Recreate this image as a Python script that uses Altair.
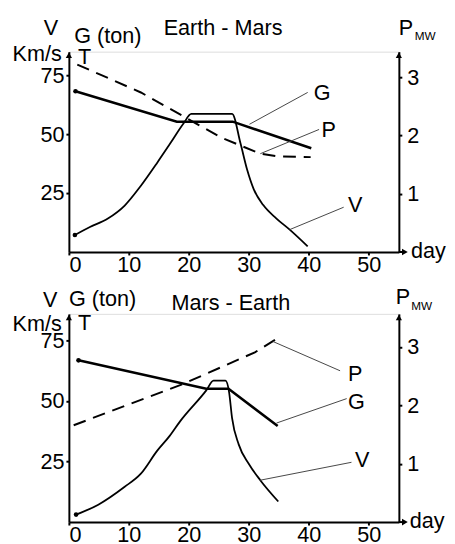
import altair as alt
import pandas as pd

FONT = "Liberation Sans"

# ---------------- Earth - Mars (top panel) ----------------
em_g_day = [1.1, 18.0, 27.3, 40.4]
em_g_val = [68.2, 55.3, 55.3, 44.0]
em_v_day = [1.0, 3.5, 6.5, 9.3, 12.0, 14.7, 16.9, 19.1, 20.4, 27.2, 28.6, 29.7, 30.8, 32.4, 34.6, 36.8, 39.8]
em_v_val = [7.2, 10.6, 14.2, 19.7, 28.1, 37.8, 46.1, 54.5, 58.6, 58.6, 46.1, 35.0, 26.7, 19.9, 14.2, 9.5, 2.4]
em_p_day = [1.4, 12.0, 25.5, 31.9, 35.0, 40.3]
em_p_mw = [3.22, 2.74, 1.96, 1.69, 1.64, 1.63]

# ---------------- Mars - Earth (bottom panel) ----------------
me_g_day = [1.6, 22.9, 26.6, 34.8]
me_g_val = [66.8, 55.1, 55.1, 39.7]
me_v_day = [1.2, 4.9, 9.3, 12.0, 14.7, 16.8, 18.5, 22.9, 24.1, 26.1, 26.7, 27.2, 28.3, 30.0, 31.9, 34.9]
me_v_val = [3.1, 7.2, 14.6, 20.0, 29.4, 35.6, 41.5, 54.4, 58.4, 58.4, 53.7, 42.9, 32.1, 24.0, 17.3, 8.5]
me_p_day = [0.8, 19.1, 31.0, 35.1]
me_p_mw = [1.66, 2.37, 2.91, 3.17]

x_ticks = [0, 10, 20, 30, 40, 50]
y_ticks = [25, 50, 75]
p_ticks = [1, 2, 3]

# annotation tables: (day, value, text)
em_curve_labels = [(42.2, 67.3, "G"), (43.3, 51.7, "P"), (47.7, 20.1, "V")]
em_leaders = [(30.1, 54.2, 39.8, 67.7), (31.9, 41.7, 41.7, 52.0), (36.8, 9.5, 45.8, 19.0)]
me_curve_labels = [(47.7, 61.1, "P"), (47.9, 49.7, "G"), (48.9, 25.4, "V")]
me_leaders = [(34.0, 74.6, 45.2, 62.5), (34.6, 40.9, 46.3, 51.0), (31.9, 17.3, 47.1, 24.7)]


def panel(title, g_day, g_val, v_day, v_val, p_day, p_mw, curve_labels, leaders,
          y_max, p_max, height, ann):
    xs = alt.Scale(domain=[0, 55], nice=False)
    ys = alt.Scale(domain=[0, y_max], nice=False)
    ps = alt.Scale(domain=[0, p_max], nice=False)
    common_axis = dict(domainColor="black", domainWidth=2, tickColor="black", tickWidth=2,
                       tickSize=3, labelColor="black", labelFont=FONT, labelFontSize=22,
                       grid=False, title=None)
    X = alt.X("day:Q", scale=xs, axis=alt.Axis(values=x_ticks, labelPadding=0, **common_axis))
    Yn = alt.Y("val:Q", scale=ys, axis=None)

    g_df = pd.DataFrame({"day": g_day, "val": g_val})
    v_df = pd.DataFrame({"day": v_day, "val": v_val})
    p_df = pd.DataFrame({"day": p_day, "p": p_mw})

    g_line = alt.Chart(g_df).mark_line(color="black", strokeWidth=2.6).encode(
        x=X,
        y=alt.Y("val:Q", scale=ys, axis=alt.Axis(values=y_ticks, labelPadding=2, **common_axis)),
    )
    v_line = alt.Chart(v_df).mark_line(color="black", strokeWidth=1.8, interpolate="monotone").encode(
        x=X, y=Yn)
    p_line = alt.Chart(p_df).mark_line(color="black", strokeWidth=2, strokeDash=[13, 8]).encode(
        x=X,
        y=alt.Y("p:Q", scale=ps, axis=alt.Axis(orient="right", values=p_ticks, labelPadding=5,
                                               **common_axis)),
    )
    dots = alt.Chart(pd.DataFrame({"day": [g_day[0], v_day[0]], "val": [g_val[0], v_val[0]]})).mark_circle(
        color="black", size=22, opacity=1).encode(x=X, y=Yn)

    lead_df = pd.DataFrame(leaders, columns=["day", "val", "day2", "val2"])
    lead = alt.Chart(lead_df).mark_rule(color="#444444", strokeWidth=1).encode(
        x=X, y=Yn, x2="day2:Q", y2="val2:Q")

    lab_df = pd.DataFrame(curve_labels, columns=["day", "val", "text"])
    labs = alt.Chart(lab_df).mark_text(font=FONT, fontSize=22, color="black").encode(
        x=X, y=Yn, text="text:N")

    ann_df = pd.DataFrame(ann["big"], columns=["day", "val", "text"])
    ann_big = alt.Chart(ann_df).mark_text(font=FONT, fontSize=22, color="black").encode(
        x=X, y=Yn, text="text:N")
    ann_small = alt.Chart(pd.DataFrame([ann["mw"]], columns=["day", "val", "text"])).mark_text(
        font=FONT, fontSize=12, color="black").encode(x=X, y=Yn, text="text:N")
    ann_day = alt.Chart(pd.DataFrame([ann["day"]], columns=["day", "val", "text"])).mark_text(
        font=FONT, fontSize=22, color="black", align="left", baseline="middle").encode(
        x=X, y=Yn, text="text:N")

    arr_up = alt.Chart(pd.DataFrame({"day": [0, 55], "val": [y_max - 1.5, y_max - 1.5]})).mark_point(
        shape="triangle-up", filled=True, color="black", size=40, opacity=1).encode(x=X, y=Yn)
    arr_rt = alt.Chart(pd.DataFrame({"day": [56.0], "val": [0]})).mark_point(
        shape="triangle-right", filled=True, color="black", size=45, opacity=1).encode(x=X, y=Yn)
    ext = alt.Chart(pd.DataFrame({"day": [55], "day2": [56], "val": [0]})).mark_rule(
        color="black", strokeWidth=2).encode(x=X, x2="day2:Q", y=Yn)

    return alt.layer(g_line, v_line, p_line, dots, lead, labs, ann_big, ann_small, ann_day,
                     arr_up, arr_rt, ext).resolve_scale(y="independent").properties(
        width=336, height=height)


top = panel("Earth - Mars", em_g_day, em_g_val, em_v_day, em_v_val, em_p_day, em_p_mw,
            em_curve_labels, em_leaders, 85, 85 / 24.7, 204,
            {"big": [(-3.0, 95.1, "V"), (-5.3, 84.0, "Km/s"), (6.5, 91.5, "G (ton)"),
                     (2.6, 82.6, "T"), (25.7, 95.1, "Earth - Mars"), (56.2, 95.1, "P")],
             "mw": (59.4, 91.5, "MW"),
             "day": (57.0, 0.5, "day")})

bottom = panel("Mars - Earth", me_g_day, me_g_val, me_v_day, me_v_val, me_p_day, me_p_mw,
               me_curve_labels, me_leaders, 86, 86 / 24.1, 212,
               {"big": [(-3.1, 91.8, "V"), (-5.3, 81.8, "Km/s"), (5.6, 92.3, "G (ton)"),
                        (2.6, 82.1, "T"), (27.0, 90.5, "Mars - Earth"), (55.7, 92.8, "P")],
                "mw": (58.8, 89.1, "MW"),
                "day": (56.8, 0.5, "day")})

chart = alt.vconcat(top, bottom, spacing=63, bounds="flush").properties(
    padding={"left": 4, "top": 3.5, "right": 0, "bottom": 0},
).configure_view(stroke=None).configure(background="white")

chart.save("out.html", embed_options={"renderer": "svg", "actions": False})
